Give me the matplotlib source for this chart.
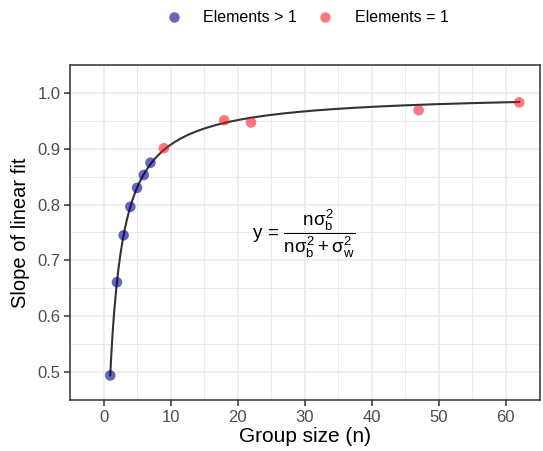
import numpy as np
import matplotlib
matplotlib.use('Agg')
import matplotlib.pyplot as plt
from matplotlib.lines import Line2D

plt.rcParams['font.family'] = ['Liberation Sans', 'DejaVu Sans']
plt.rcParams['mathtext.fontset'] = 'custom'
plt.rcParams['mathtext.rm'] = 'Liberation Sans'
plt.rcParams['mathtext.it'] = 'Liberation Sans'
plt.rcParams['mathtext.sf'] = 'Liberation Sans'

# group sizes and fitted slopes
n_multi = [1, 2, 3, 4, 5, 6, 7]
slope_multi = [0.494, 0.661, 0.745, 0.796, 0.830, 0.853, 0.875]
n_single = [9, 18, 22, 47, 62]
slope_single = [0.901, 0.951, 0.947, 0.969, 0.983]
# variance ratio sigma_w^2 / sigma_b^2 of the drawn curve
var_ratio = 1.024

blue = (0.0, 0.0, 0.545, 0.6)
red = (0.95, 0.05, 0.1, 0.55)

fig = plt.figure(figsize=(5.43, 4.51), dpi=100)
ax = fig.add_axes([70 / 543, 51 / 451, 470 / 543, 335 / 451])

nn = np.linspace(1, 62, 400)
ax.plot(nn, nn / (nn + var_ratio), color='#333333', lw=1.5, zorder=3)
ax.scatter(n_multi, slope_multi, s=58, color=blue, edgecolors='none', zorder=4)
ax.scatter(n_single, slope_single, s=58, color=red, edgecolors='none', zorder=4)

ax.set_xlim(-3.1, 65.1)
ax.set_ylim(0.4646, 1.037)
ax.set_xticks([0, 10, 20, 30, 40, 50, 60])
ax.set_xticks(np.arange(-5, 66, 5), minor=True)
ax.set_yticks([0.5, 0.6, 0.7, 0.8, 0.9, 1.0])
ax.set_yticks(np.arange(0.45, 1.05, 0.05), minor=True)
ax.yaxis.set_major_formatter(matplotlib.ticker.FormatStrFormatter('%.1f'))

ax.grid(which='major', color='#EBEBEB', lw=1.2, zorder=0)
ax.grid(which='minor', color='#EBEBEB', lw=0.7, zorder=0)
ax.set_axisbelow(True)
for sp in ax.spines.values():
    sp.set_color('#333333')
    sp.set_linewidth(1.1)
ax.tick_params(which='major', length=4, width=1.1, color='#333333',
               labelsize=12, labelcolor='#4D4D4D', pad=3)
ax.tick_params(which='minor', length=0)

ax.set_xlabel('Group size (n)', fontsize=15, labelpad=2)
ax.set_ylabel('Slope of linear fit', fontsize=14.5, labelpad=5)

ax.text(29.8, 0.748,
        r'$\mathrm{y}\,=\,\dfrac{\mathrm{n}\sigma_{\mathrm{b}}^{2}}{\mathrm{n}\sigma_{\mathrm{b}}^{2}+\sigma_{\mathrm{w}}^{2}}$',
        fontsize=13.5, ha='center', va='center')

handles = [Line2D([], [], ls='none', marker='o', ms=7.5, mfc=blue, mec='none'),
           Line2D([], [], ls='none', marker='o', ms=7.5, mfc=red, mec='none')]
fig.legend(handles, ['Elements > 1', 'Elements = 1'], loc='center',
           bbox_to_anchor=(305 / 543, 1 - 18 / 451), ncol=2, frameon=False,
           fontsize=11.5, handletextpad=1.1, columnspacing=1.0, handlelength=1.5)

fig.savefig('out.png', dpi=100)
